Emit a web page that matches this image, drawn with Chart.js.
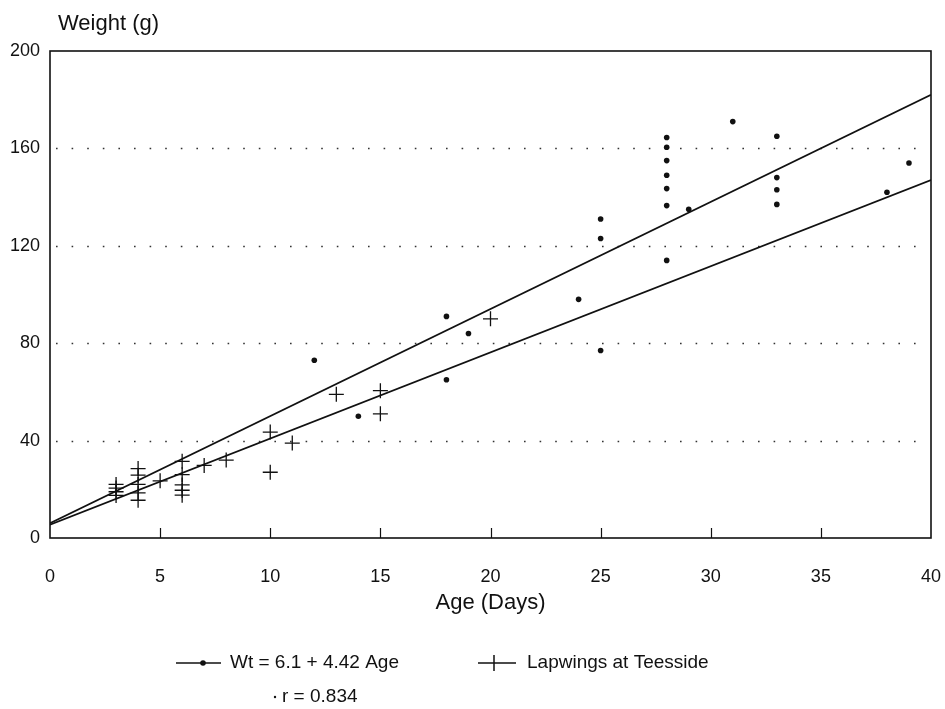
<!DOCTYPE html>
<html><head><meta charset="utf-8">
<script src="https://cdn.jsdelivr.net/npm/chart.js@4.4.1/dist/chart.umd.min.js"></script>
<style>html,body{margin:0;padding:0;background:#fff;}#wrap{width:945px;height:709px;position:relative;}</style>
</head><body><div id="wrap"><canvas id="c" width="945" height="709"></canvas></div>
<script>
// ---- data ----
const xTicks = [0, 5, 10, 15, 20, 25, 30, 35, 40];
const yTicks = [0, 40, 80, 120, 160, 200];
const xTitle = 'Age (Days)';
const yTitle = 'Weight (g)';

const dotAge    = [12, 14, 18, 18, 19, 24, 25, 25, 25, 28, 28, 28, 28, 28, 28, 28, 29, 31, 33, 33, 33, 33, 38, 39];
const dotWeight = [73, 50, 91, 65, 84, 98, 77, 123, 131, 114, 136.5, 143.5, 149, 155, 160.5, 164.5, 135, 171, 165, 148, 143, 137, 142, 154];

const crossAge    = [3, 3, 3, 3, 4, 4, 4, 4, 4, 5, 6, 6, 6, 6, 6, 7, 8, 10, 10, 11, 13, 15, 15, 20];
const crossWeight = [22, 20.5, 19, 17.5, 28.5, 25.8, 22, 18.5, 15.5, 23.5, 31.5, 26, 21.8, 19.6, 17.6, 29.8, 32, 43.5, 27, 39, 59, 60.5, 51, 90];

const fitAge   = [0, 40];
const fitUpper = [6.1, 182];
const fitLower = [5.5, 147];

const dotLabel   = 'Wt = 6.1 + 4.42 Age';
const crossLabel = 'Lapwings at Teesside';
const rLabel     = 'r = 0.834';

// ---- styling ----
const FONT = '"Liberation Sans", Arial, Helvetica, sans-serif';
const INK = '#111';

const pts = (xs, ys) => xs.map((v, i) => ({ x: v, y: ys[i] }));

const decor = {
  id: 'decor',
  beforeDatasetsDraw(chart) {
    const { ctx, chartArea: a, scales: { y } } = chart;
    ctx.save();
    ctx.strokeStyle = '#333';
    ctx.lineWidth = 1.6;
    ctx.setLineDash([1.6, 14]);
    yTicks.forEach(v => {
      if (v > y.min && v < y.max) {
        const py = Math.round(y.getPixelForValue(v)) + 0.5;
        ctx.beginPath(); ctx.moveTo(a.left + 6, py); ctx.lineTo(a.right - 6, py); ctx.stroke();
      }
    });
    ctx.restore();
  },
  afterDraw(chart) {
    const { ctx, chartArea: a, scales: { x } } = chart;
    ctx.save();
    ctx.strokeStyle = INK; ctx.lineWidth = 1.6;
    ctx.strokeRect(a.left, a.top, a.right - a.left, a.bottom - a.top);
    ctx.lineWidth = 1.2;
    xTicks.forEach(v => {
      if (v > x.min && v < x.max) {
        const px = Math.round(x.getPixelForValue(v)) + 0.5;
        ctx.beginPath(); ctx.moveTo(px, a.bottom); ctx.lineTo(px, a.bottom - 10); ctx.stroke();
      }
    });
    ctx.fillStyle = INK;
    ctx.textBaseline = 'middle';
    ctx.font = '22px ' + FONT;
    ctx.textAlign = 'left';
    ctx.fillText(yTitle, 58, 24);
    ctx.textAlign = 'center';
    ctx.fillText(xTitle, (a.left + a.right) / 2, 603);

    // legend
    const ds = chart.data.datasets;
    const r1 = 663, r2 = 697;
    ctx.font = '19px ' + FONT;
    ctx.textAlign = 'left';
    ctx.lineWidth = 1.5;
    ctx.beginPath(); ctx.moveTo(176, r1); ctx.lineTo(221, r1); ctx.stroke();
    ctx.beginPath(); ctx.arc(203, r1, 2.8, 0, Math.PI * 2); ctx.fill();
    ctx.fillText(ds[2].label, 230, r1);
    ctx.beginPath(); ctx.moveTo(478, r1); ctx.lineTo(516, r1); ctx.moveTo(494, r1 - 8); ctx.lineTo(494, r1 + 8); ctx.stroke();
    ctx.fillText(ds[3].label, 527, r1);
    ctx.beginPath(); ctx.arc(275, r2, 1.2, 0, Math.PI * 2); ctx.fill();
    ctx.fillText(rLabel, 282, r2);
    ctx.restore();
  }
};

new Chart(document.getElementById('c'), {
  type: 'scatter',
  data: {
    datasets: [
      { type: 'line', label: 'fit1', data: pts(fitAge, fitUpper), borderColor: INK, borderWidth: 1.7, pointRadius: 0, fill: false, tension: 0 },
      { type: 'line', label: 'fit2', data: pts(fitAge, fitLower), borderColor: INK, borderWidth: 1.7, pointRadius: 0, fill: false, tension: 0 },
      { label: dotLabel, data: pts(dotAge, dotWeight), pointStyle: 'circle', pointRadius: 2.8, backgroundColor: INK, borderColor: INK, borderWidth: 0 },
      { label: crossLabel, data: pts(crossAge, crossWeight), pointStyle: 'cross', pointRadius: 7.5, borderColor: INK, borderWidth: 1.3 }
    ]
  },
  options: {
    responsive: false,
    animation: false,
    devicePixelRatio: 1,
    layout: { padding: { left: 0, top: 51, right: 14, bottom: 0 } },
    plugins: { legend: { display: false }, title: { display: false }, tooltip: { enabled: false } },
    scales: {
      x: {
        type: 'linear', min: 0, max: 40,
        afterBuildTicks: s => { s.ticks = xTicks.map(v => ({ value: v })); },
        afterFit: s => { s.height = 171; s.paddingLeft = 0; s.paddingRight = 0; },
        grid: { display: false }, border: { display: false },
        ticks: { color: INK, font: { family: FONT, size: 18 }, padding: 20, maxRotation: 0 }
      },
      y: {
        type: 'linear', min: 0, max: 200,
        afterBuildTicks: s => { s.ticks = yTicks.map(v => ({ value: v })); },
        afterFit: s => { s.width = 50; s.paddingTop = 0; s.paddingBottom = 0; },
        grid: { display: false }, border: { display: false },
        ticks: { color: INK, font: { family: FONT, size: 18 }, padding: 2 }
      }
    }
  },
  plugins: [decor]
});
</script></body></html>
